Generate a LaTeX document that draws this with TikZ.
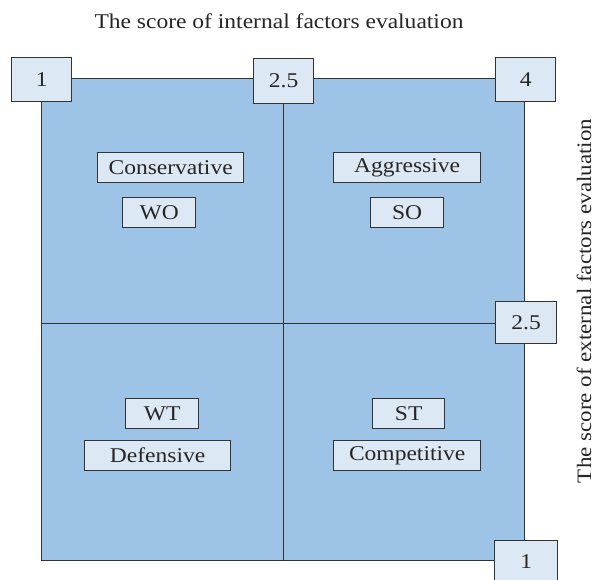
\documentclass[tikz,border=0pt]{standalone}
\usepackage{fontspec}
\setmainfont[FakeStretch=1.12]{Liberation Serif}
\definecolor{quad}{HTML}{9DC3E6}
\definecolor{boxfill}{HTML}{DDE8F5}
\definecolor{edge}{HTML}{333333}
\begin{document}
\begin{tikzpicture}[x=1pt,y=-1pt,
  lbl/.style={draw=edge,line width=1.3pt,fill=boxfill,inner sep=0pt,anchor=north west,
    font=\fontsize{21}{24}\selectfont,text=black!85},
  divider/.style={draw=edge,line width=1pt}]
\useasboundingbox (0,0) rectangle (596,579);
\fill[white] (0,0) rectangle (596,579);
\node[fill=quad,draw=edge,line width=1pt,minimum width=483pt,minimum height=482pt,anchor=north west,inner sep=0pt] (sq) at (41,78) {};
\coordinate (vt) at (283,78);
\coordinate (vb) at (283,560);
\coordinate (hl) at (41,323);
\coordinate (hr) at (524,323);
\draw[divider] (vt) -- (vb);
\draw[divider] (hl) -- (hr);
% axis value boxes
\node[lbl,minimum width=60pt,minimum height=44pt] (v1) at (11,57) {1};
\node[lbl,minimum width=60pt,minimum height=45pt] (v25t) at (253,58) {2.5};
\node[lbl,minimum width=60pt,minimum height=44pt] (v4) at (495,57) {4};
\node[lbl,minimum width=61pt,minimum height=42pt] (v25r) at (495,301) {2.5};
\node[lbl,minimum width=63pt,minimum height=42pt] (v1b) at (494,540) {1};
% quadrant labels
\node[lbl,minimum width=146pt,minimum height=30pt] (cons) at (97,152) {Conservative};
\node[lbl,minimum width=73pt,minimum height=30pt] (wo) at (122,197) {WO};
\node[lbl,minimum width=147pt,minimum height=30pt] (aggr) at (333,152) {Aggressive};
\node[lbl,minimum width=73pt,minimum height=30pt] (so) at (370,197) {SO};
\node[lbl,minimum width=73pt,minimum height=30pt] (wt) at (125,398) {WT};
\node[lbl,minimum width=146pt,minimum height=30pt] (def) at (84,440) {Defensive};
\node[lbl,minimum width=72pt,minimum height=30pt] (st) at (372,398) {ST};
\node[lbl,minimum width=147pt,minimum height=30pt] (comp) at (333,440) {Competitive};
% axis titles
\node[font=\fontsize{21}{24}\selectfont,text=black!85] (tx) at (279,21) {The score of internal factors evaluation};
\node[font=\fontsize{20.5}{24}\selectfont,text=black!85,rotate=90,inner sep=0pt] (ty) at (584,301) {The score of external factors evaluation};
\end{tikzpicture}
\end{document}
